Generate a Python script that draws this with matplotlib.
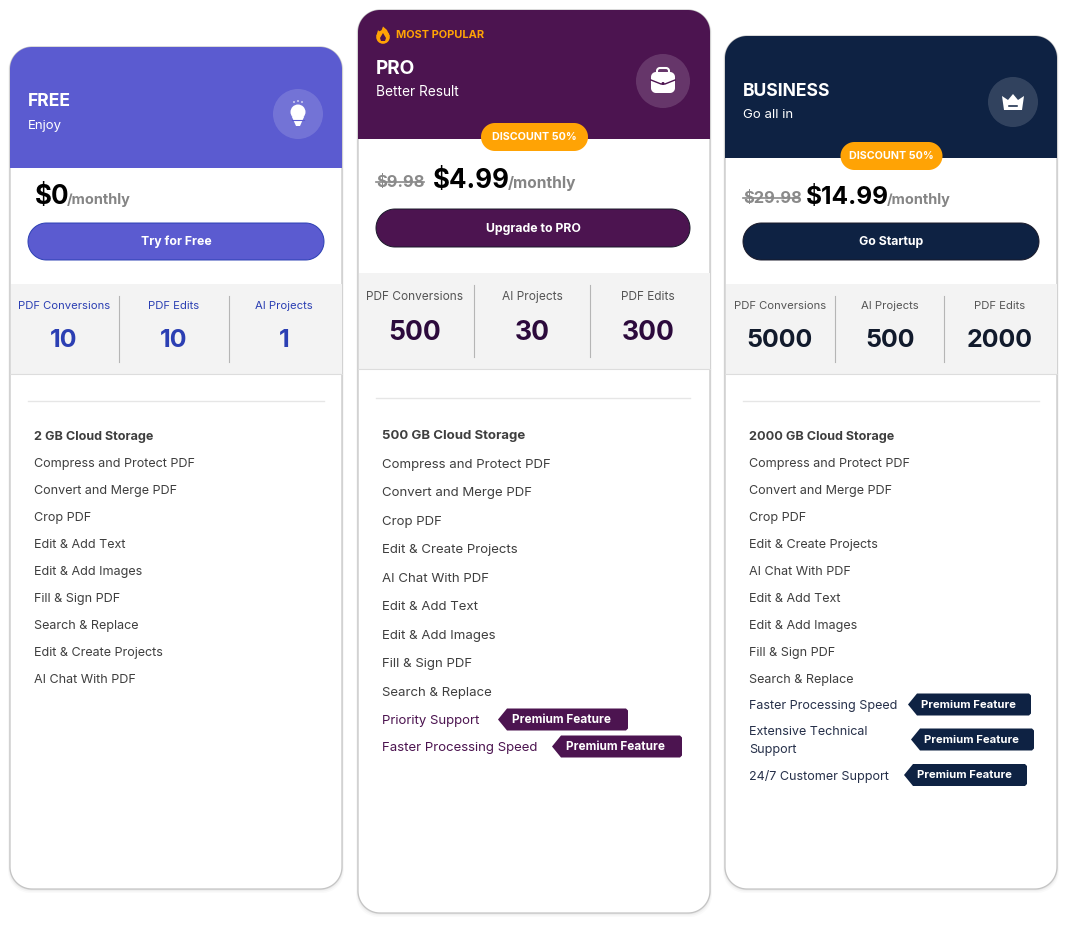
import matplotlib
matplotlib.use("Agg")
import matplotlib.pyplot as plt
import numpy as np
from matplotlib.patches import Circle, Polygon, Rectangle

plt.rcParams['font.family'] = ['Inter', 'DejaVu Sans']

# Plan contents
plan_names = ["FREE", "PRO", "BUSINESS"]
plan_taglines = ["Enjoy", "Better Result", "Go all in"]
old_prices = [None, "$9.98", "$29.98"]
new_prices = ["$0", "$4.99", "$14.99"]
button_labels = ["Try for Free", "Upgrade to PRO", "Go Startup"]

stat_labels_free = ["PDF Conversions", "PDF Edits", "AI Projects"]
stat_labels_pro = ["PDF Conversions", "AI Projects", "PDF Edits"]
stat_labels_business = ["PDF Conversions", "AI Projects", "PDF Edits"]
stat_values_free = ["10", "10", "1"]
stat_values_pro = ["500", "30", "300"]
stat_values_business = ["5000", "500", "2000"]

features_free = ["2 GB Cloud Storage", "Compress and Protect PDF", "Convert and Merge PDF",
                 "Crop PDF", "Edit & Add Text", "Edit & Add Images", "Fill & Sign PDF",
                 "Search & Replace", "Edit & Create Projects", "AI Chat With PDF"]
features_pro = ["500 GB Cloud Storage", "Compress and Protect PDF", "Convert and Merge PDF",
                "Crop PDF", "Edit & Create Projects", "AI Chat With PDF", "Edit & Add Text",
                "Edit & Add Images", "Fill & Sign PDF", "Search & Replace"]
features_business = ["2000 GB Cloud Storage", "Compress and Protect PDF", "Convert and Merge PDF",
                     "Crop PDF", "Edit & Create Projects", "AI Chat With PDF", "Edit & Add Text",
                     "Edit & Add Images", "Fill & Sign PDF", "Search & Replace"]
premium_pro = ["Priority Support", "Faster Processing Speed"]
premium_business = ["Faster Processing Speed", "Extensive Technical\nSupport", "24/7 Customer Support"]
premium_tag = "Premium Feature"

PURPLE = '#4c1450'
NAVY = '#0e2243'
BLUE = '#5b5bd0'
ORANGE = '#ffa305'
GREY = '#f3f3f3'
TEXT = '#3f3f3f'


def px(size):
    # css pixels to points at dpi 100
    return size * 0.72


fig = plt.figure(figsize=(10.7, 9.3), dpi=100)
ax = fig.add_axes([0, 0, 1, 1])
ax.set_xlim(0, 1070)
ax.set_ylim(930, 0)
ax.axis('off')


def rounded(x0, y0, x1, y1, r, fc, ec='none', lw=0, z=1):
    # FancyBboxPatch corners come out too square for the pill buttons, so use real arcs
    pts = []
    corners = [(x1 - r, y0 + r, -90), (x1 - r, y1 - r, 0), (x0 + r, y1 - r, 90), (x0 + r, y0 + r, 180)]
    for cx, cy, start in corners:
        a = np.radians(np.linspace(start, start + 90, 24))
        pts += list(zip(cx + r * np.cos(a), cy + r * np.sin(a)))
    p = Polygon(pts, closed=True, fc=fc, ec=ec, lw=lw, zorder=z)
    ax.add_patch(p)
    return p


def bulb_icon(cx, cy):
    ax.add_patch(Circle((cx, cy - 2), 7.5, fc='white', ec='none', zorder=6))
    ax.add_patch(Polygon([(cx - 6, cy + 3), (cx + 6, cy + 3), (cx + 2, cy + 12), (cx - 2, cy + 12)],
                         fc='white', ec='none', zorder=6))
    ax.plot([cx - 6, cx + 6], [cy + 6, cy + 6], color=BLUE, lw=0.8, zorder=7)
    for dx, dy in [(-4, -12), (0, -13), (4, -12)]:
        ax.add_patch(Circle((cx + dx, cy + dy), 0.8, fc='white', ec='none', zorder=6))


def case_icon(cx, cy):
    rounded(cx - 6, cy - 12, cx + 6, cy - 4, 3, 'none', 'white', 1.5, z=6)
    rounded(cx - 12, cy - 8, cx + 12, cy + 13, 5, 'white', z=6)
    ax.plot([cx - 12, cx - 2, cx + 2, cx + 12], [cy + 0, cy + 4, cy + 4, cy + 0], color=PURPLE, lw=1, zorder=7)
    ax.add_patch(Circle((cx, cy + 3.5), 1.5, fc=PURPLE, ec='none', zorder=8))


def crown_icon(cx, cy):
    ax.add_patch(Polygon([(cx - 11, cy - 6), (cx - 5, cy - 2), (cx, cy - 8), (cx + 5, cy - 2), (cx + 11, cy - 6),
                          (cx + 9, cy + 8), (cx - 9, cy + 8)], fc='white', ec='none', zorder=6))
    ax.plot([cx - 4, cx + 4], [cy + 4, cy + 4], color=NAVY, lw=1.1, zorder=7)


def flame_icon(cx, cy):
    ax.add_patch(Circle((cx, cy + 2), 6.8, fc=ORANGE, ec='none', zorder=6))
    ax.add_patch(Polygon([(cx - 6.5, cy + 1), (cx - 5, cy - 5), (cx - 2.5, cy - 2), (cx, cy - 8.5), (cx + 4, cy - 5),
                          (cx + 6.5, cy + 1)], fc=ORANGE, ec='none', zorder=6))
    ax.add_patch(Polygon([(cx - 3, cy + 3), (cx, cy - 2), (cx + 3, cy + 3), (cx + 2, cy + 6), (cx - 2, cy + 6)],
                         fc=PURPLE, ec='none', zorder=7))


def premium_badge(x0, x1, y, color, size):
    ax.add_patch(Polygon([(x0, y), (x0 + 9, y - 11), (x1 - 2, y - 11), (x1, y - 9), (x1, y + 9),
                          (x1 - 2, y + 11), (x0 + 9, y + 11)], fc=color, ec='none', zorder=5))
    ax.text((x0 + x1) / 2 - 1, y + 0.2, premium_tag, color='white', fontsize=px(size), fontweight='bold',
            ha='center', va='center', zorder=6)


def draw_card(i, x0, x1, y0, y1, head_y, color, stat_color, stat_top, stat_bot, div_y, stat_label_y, stat_value_y,
              stat_labels, stat_values, stat_xs, sep_xs, features, feat_y, feat_step, name_y, tag_y, name_x,
              icon_y, icon_r, price_y, old_x, new_x, month_x, btn_y0, btn_y1, btn_x0, btn_x1,
              price_size, month_size, pill_half, feat_size, name_size, tag_size, label_size, stat_size):
    # soft shadow under the card
    for d, a in [(4, 0.02), (2.5, 0.03), (1.2, 0.05)]:
        sh = rounded(x0 - d / 2, y0 + 1, x1 + d / 2, y1 + d, 22, 'black', z=0.5)
        sh.set_alpha(a)
    card = rounded(x0, y0, x1, y1, 22, 'white', '#c4c4c4', 0.9, z=1)

    head = Rectangle((x0 - 1, y0 - 1), x1 - x0 + 2, head_y - y0 + 1, fc=color, ec='none', zorder=2)
    ax.add_patch(head)
    head.set_clip_path(card)

    band = Rectangle((x0 + 0.5, stat_top), x1 - x0 - 1, stat_bot - stat_top, fc=GREY, ec='none', zorder=2)
    ax.add_patch(band)
    ax.plot([x0, x1], [stat_bot, stat_bot], color='#dddddd', lw=0.8, zorder=2)
    ax.plot([btn_x0, btn_x1], [div_y, div_y], color='#e6e6e6', lw=1, zorder=2)

    ax.text(name_x, name_y, plan_names[i], color='white', fontsize=px(name_size), fontweight='bold', va='center', zorder=4)
    ax.text(name_x, tag_y, plan_taglines[i], color='white', fontsize=px(tag_size), va='center', zorder=4)

    icon_x = x1 - 44 if i != 1 else x1 - 47
    ax.add_patch(Circle((icon_x, icon_y), icon_r, fc='white', alpha=0.15, ec='none', zorder=3))
    if i == 0:
        bulb_icon(icon_x, icon_y)
    elif i == 1:
        case_icon(icon_x, icon_y - 1)
    else:
        crown_icon(icon_x, icon_y)

    if old_prices[i] is not None:
        ax.text(old_x, price_y + 1.5, old_prices[i], color='#8a8a8a', fontsize=px(16.5), fontweight='bold', va='center', zorder=4)
        w = 48 if i == 1 else 56
        ax.plot([old_x, old_x + w], [price_y + 1.5, price_y + 1.5], color='#8a8a8a', lw=1.2, zorder=5)
        # discount pill sits on the header edge
        pill_x = (x0 + x1) / 2 + 0.5
        rounded(pill_x - pill_half, head_y - 16, pill_x + pill_half, head_y + 12, 14, ORANGE, z=5)
        ax.text(pill_x, head_y - 2, "DISCOUNT 50%", color='white', fontsize=px(10.7), fontweight='bold',
                ha='center', va='center', zorder=6)

    ax.text(new_x, price_y, new_prices[i], color='black', fontsize=px(price_size), fontweight='bold', va='center', zorder=4)
    ax.text(month_x, price_y + 2.5, "/monthly", color='#858585', fontsize=px(month_size), fontweight='bold', va='center', zorder=4)

    rounded(btn_x0, btn_y0, btn_x1, btn_y1, (btn_y1 - btn_y0) / 2, color, stat_color if i == 0 else '#1a1a2a', 0.7, z=3)
    ax.text((btn_x0 + btn_x1) / 2, (btn_y0 + btn_y1) / 2 + 0.5, button_labels[i], color='white', fontsize=px(12.3),
            fontweight='bold', ha='center', va='center', zorder=4)

    for x, lab, val in zip(stat_xs, stat_labels, stat_values):
        ax.text(x, stat_label_y, lab, color=stat_color if i == 0 else '#555555', fontsize=px(label_size), ha='center', va='center', zorder=4)
        ax.text(x, stat_value_y, val, color=stat_color if i == 0 else ('#2c0a3c' if i == 1 else '#111a2c'),
                fontsize=px(stat_size), fontweight='bold', ha='center', va='center', zorder=4)
    for x in sep_xs:
        ax.plot([x, x], [stat_top + 12, stat_bot - 12], color='#b5b5b5', lw=0.8, zorder=3)

    for k, f in enumerate(features):
        ax.text(name_x + 6, feat_y + k * feat_step, f, color=TEXT, fontsize=px(feat_size),
                fontweight='bold' if k == 0 else 'normal', va='center', zorder=4)


# FREE
draw_card(0, 10, 342, 47, 889, 168, BLUE, '#2b3fb3', 284, 374, 401, 305.5, 340,
          stat_labels_free, stat_values_free, [64, 174, 284], [119, 229],
          features_free, 437, 26.95, 102, 125.5, 28,
          114, 25, 197, None, 35, 67, 223, 260, 28, 324, 26, 14.5, 53, 12.6, 17.5, 13.2, 11.3, 25)

# PRO
draw_card(1, 358, 710, 10, 913, 139, PURPLE, '#4e154f', 273, 369, 398, 296.5, 333,
          stat_labels_pro, stat_values_pro, [415, 532, 648], [473.5, 589.5],
          features_pro, 436, 28.5, 69, 92.5, 376,
          81, 27, 181, 376, 433, 508, 209, 247, 376, 690, 26, 15.5, 53.5, 13.2, 19, 13.7, 11.9, 26.5)

# BUSINESS
draw_card(2, 725, 1057, 36, 889, 158, NAVY, '#0e2243', 284, 374, 401, 305.5, 340,
          stat_labels_business, stat_values_business, [780, 890, 1000], [834.5, 944],
          features_business, 437, 26.95, 91, 114.5, 743,
          102, 25, 197, 743, 806, 887, 223, 260, 743, 1039, 24.5, 14.5, 51, 12.6, 17.5, 13.2, 11.3, 25)

# most popular marker
flame_icon(383, 35)
ax.text(396, 35, "MOST POPULAR", color=ORANGE, fontsize=px(11), fontweight='bold', va='center', zorder=6)

# premium rows
for lab, y, b0, b1 in zip(premium_pro, [721, 748], [498, 552], [628, 682]):
    ax.text(382.5, y, lab, color=PURPLE, fontsize=px(13.2), va='center', zorder=4)
    premium_badge(b0, b1, y - 1.5, PURPLE, 11.8)

biz_text_y = [706, 741, 776.5]
biz_badge_x = [(908, 1031), (911, 1034), (904, 1027)]
for lab, y, (b0, b1) in zip(premium_business, biz_text_y, biz_badge_x):
    ax.text(749, y, lab, color='#26304a', fontsize=px(12.6), va='center', linespacing=1.75, zorder=4)
    premium_badge(b0, b1, y - 1.5, NAVY, 11.3)

fig.savefig("out.png", dpi=100, facecolor='white')
